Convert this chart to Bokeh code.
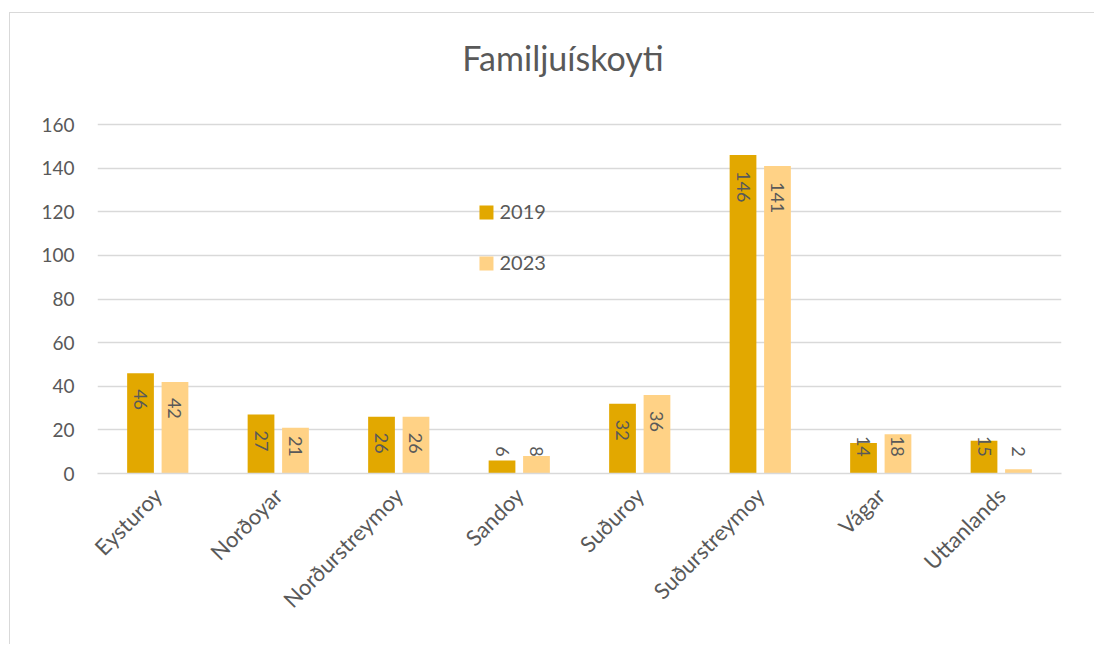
import numpy as np
from bokeh.plotting import figure
from bokeh.models import FactorRange, ColumnDataSource, Label, Range1d, FixedTicker
from bokeh.transform import dodge
from bokeh.core.properties import value
from bokeh.embed import file_html
from bokeh.resources import INLINE

# ---- data ----
categories = ["Eysturoy", "Norðoyar", "Norðurstreymoy", "Sandoy",
              "Suðuroy", "Suðurstreymoy", "Vágar", "Uttanlands"]
values_2019 = [46, 27, 26, 6, 32, 146, 14, 15]
values_2023 = [42, 21, 26, 8, 36, 141, 18, 2]
series_names = ["2019", "2023"]
y_ticks = [0, 20, 40, 60, 80, 100, 120, 140, 160]
title_text = "Familjuískoyti"

# ---- style ----
COL19 = "#E2A800"
COL23 = "#FFD286"
TXT = "#595959"
GRID = "#D9D9D9"
FONT = "Lato"
PX_PER_UNIT = 349 / 160.0
Y_TOP = 460 / PX_PER_UNIT   # frame reaches top of canvas; gridlines stop at 160


def label_start(v, n_digits):
    # inside end of bar, but never closer to the axis than a fixed gap
    return max(v - 16 / PX_PER_UNIT, 17 / PX_PER_UNIT + n_digits * 10.3 / PX_PER_UNIT)


src = ColumnDataSource(dict(
    cat=categories,
    v19=values_2019,
    v23=values_2023,
    l19=[str(v) for v in values_2019],
    l23=[str(v) for v in values_2023],
    y19=[label_start(v, len(str(v))) for v in values_2019],
    y23=[label_start(v, len(str(v))) for v in values_2023],
))

p = figure(x_range=FactorRange(factors=categories, range_padding=0),
           y_range=Range1d(0, Y_TOP),
           width=1085, height=632,
           output_backend="svg", toolbar_location=None,
           min_border_left=87, min_border_right=34,
           min_border_top=0, min_border_bottom=172)
p.styles = {"border-left": "1px solid #D9D9D9", "border-top": "1px solid #D9D9D9",
            "margin-top": "12px", "margin-left": "9px"}

OFF = 0.143
BW = 0.222
p.vbar(x=dodge("cat", -OFF, range=p.x_range), top="v19", width=BW, source=src,
       fill_color=COL19, line_color=None)
p.vbar(x=dodge("cat", OFF, range=p.x_range), top="v23", width=BW, source=src,
       fill_color=COL23, line_color=None)

for xo, yc, tc in [(-OFF, "y19", "l19"), (OFF, "y23", "l23")]:
    p.text(x=dodge("cat", xo, range=p.x_range), y=yc, text=tc, source=src,
           angle=-np.pi / 2, text_align="left", text_baseline="middle",
           text_font=value(FONT), text_font_size="18px", text_color=TXT)

# manual legend
leg_x = 3.228
leg_y = [119.7, 96.3]
for name, col, yy in zip(series_names, [COL19, COL23], leg_y):
    p.scatter(x=[leg_x], y=[yy], marker="square", size=14, fill_color=col, line_color=None)
    p.add_layout(Label(x=leg_x + 0.108, y=yy, text=name, text_align="left",
                       text_baseline="middle", text_font=FONT, text_font_size="20px",
                       text_color=TXT))

# title
p.add_layout(Label(x=3.863, y=190.7, text=title_text, text_align="center",
                   text_baseline="middle", text_font=FONT, text_font_size="34px",
                   text_color=TXT))

# axes / grid
p.outline_line_color = None
p.xgrid.grid_line_color = None
p.ygrid.grid_line_color = GRID
p.ygrid.grid_line_width = 1.3
p.yaxis.ticker = FixedTicker(ticks=y_ticks)
p.yaxis.axis_line_color = None
p.yaxis.major_tick_line_color = None
p.yaxis.minor_tick_line_color = None
p.yaxis.major_label_standoff = 17
p.yaxis.major_label_text_font = FONT
p.yaxis.major_label_text_font_size = "19px"
p.yaxis.major_label_text_color = TXT

p.xaxis.axis_line_color = GRID
p.xaxis.axis_line_width = 1.5
p.xaxis.major_tick_line_color = None
p.xaxis.minor_tick_line_color = None
p.xaxis.major_label_orientation = np.pi / 4
p.xaxis.major_label_standoff = 12
p.xaxis.major_label_text_font = FONT
p.xaxis.major_label_text_font_size = "22px"
p.xaxis.major_label_text_color = TXT

open("out.html", "w").write(file_html(p, INLINE))
